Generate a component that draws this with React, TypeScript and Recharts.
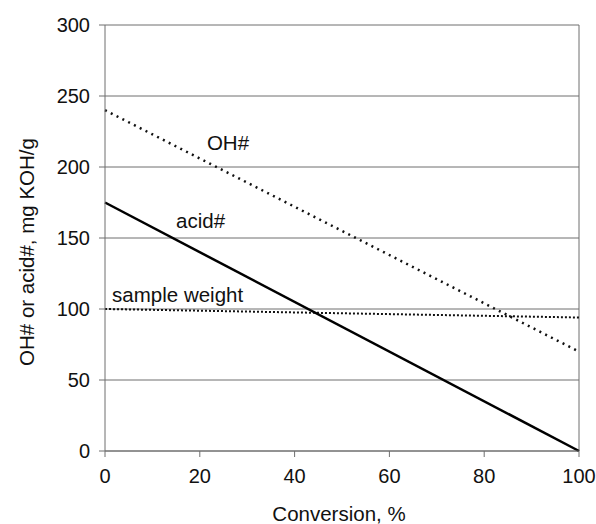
import React from 'react';
import { LineChart, Line, XAxis, YAxis, CartesianGrid, ReferenceLine, ReferenceDot } from 'recharts';

const conversion = [0, 100];
const ohNumber = [240, 70];
const acidNumber = [175, 0];
const sampleWeight = [100, 94];
const xTicks = [0, 20, 40, 60, 80, 100];
const yTicks = [0, 50, 100, 150, 200, 250, 300];

const annotations = [
  { text: 'OH#', x: 21.5, y: 212 },
  { text: 'acid#', x: 15, y: 157 },
  { text: 'sample weight', x: 1.5, y: 105 },
];

const data = conversion.map((c, i) => ({
  x: c,
  oh: ohNumber[i],
  acid: acidNumber[i],
  sw: sampleWeight[i],
}));

const FONT = '"Liberation Sans", Arial, sans-serif';
const AXIS = '#6e6e6e';

export default function App() {
  return (
    <div style={{ position: 'absolute', left: 0, top: 0, background: '#fff' }}>
      <LineChart width={596} height={524} data={data} margin={{ top: 25, right: 17, bottom: 0, left: 0 }}>
        <CartesianGrid vertical={false} stroke={AXIS} strokeWidth={1} />
        <XAxis
          dataKey="x"
          type="number"
          domain={[0, 100]}
          ticks={xTicks}
          height={73}
          tickSize={6}
          tickMargin={12}
          axisLine={{ stroke: AXIS }}
          tickLine={{ stroke: AXIS }}
          tick={{ fill: '#111', fontSize: 20, fontFamily: FONT }}
          label={{
            content: () => (
              <text x={339} y={521} textAnchor="middle" fill="#111" fontSize={20.5} fontFamily={FONT}>
                Conversion, %
              </text>
            ),
          }}
        />
        <YAxis
          type="number"
          domain={[0, 300]}
          ticks={yTicks}
          width={105}
          tickSize={6}
          tickMargin={9}
          axisLine={{ stroke: AXIS }}
          tickLine={{ stroke: AXIS }}
          tick={{ fill: '#111', fontSize: 20, fontFamily: FONT }}
          label={{
            content: () => (
              <text
                x={26}
                y={252}
                transform="rotate(-90, 26, 252)"
                textAnchor="middle"
                dominantBaseline="central"
                fill="#111"
                fontSize={20.5}
                fontFamily={FONT}
              >
                OH# or acid#, mg KOH/g
              </text>
            ),
          }}
        />
        <ReferenceLine x={100} stroke={AXIS} strokeWidth={1} />
        <Line dataKey="oh" stroke="#111" strokeWidth={2.5} strokeDasharray="2 4.5" dot={false} isAnimationActive={false} />
        <Line dataKey="sw" stroke="#111" strokeWidth={2} strokeDasharray="2 2" dot={false} isAnimationActive={false} />
        <Line dataKey="acid" stroke="#000" strokeWidth={2.5} dot={false} isAnimationActive={false} />
        {annotations.map((a) => (
          <ReferenceDot
            key={a.text}
            x={a.x}
            y={a.y}
            r={0}
            stroke="none"
            fill="none"
            label={{
              content: (p: any) => (
                <text x={p.viewBox.x} y={p.viewBox.y} fill="#111" fontSize={20.5} fontFamily={FONT}>
                  {a.text}
                </text>
              ),
            }}
          />
        ))}
      </LineChart>
    </div>
  );
}
